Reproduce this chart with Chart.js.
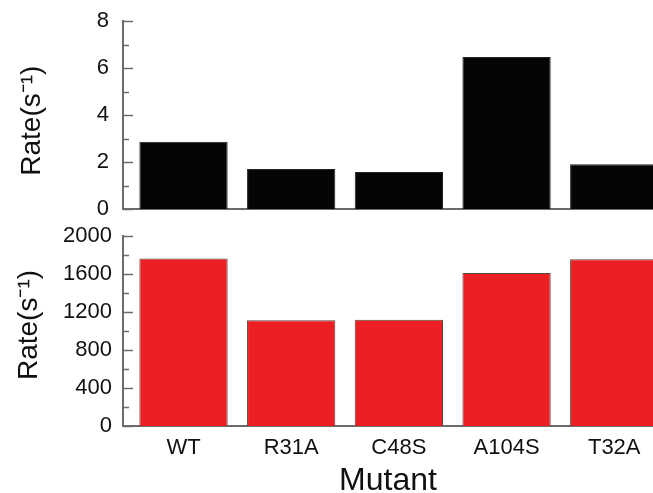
<!DOCTYPE html>
<html>
<head>
<meta charset="utf-8">
<script src="https://cdn.jsdelivr.net/npm/chart.js@4"></script>
<style>
  html, body { margin: 0; padding: 0; background: #fff; overflow: hidden; }
  canvas { position: absolute; left: 0; }
  #topChart { top: 0; }
  #bottomChart { top: 220px; }
</style>
</head>
<body>
<canvas id="topChart" width="653" height="222"></canvas>
<canvas id="bottomChart" width="653" height="280"></canvas>
<script>
const mutants = ['WT', 'R31A', 'C48S', 'A104S', 'T32A'];
const slowRates = [2.87, 1.71, 1.59, 6.47, 1.91];
const fastRates = [1762, 1114, 1118, 1611, 1755];
const slowTicks = [0, 2, 4, 6, 8];
const fastTicks = [0, 400, 800, 1200, 1600, 2000];
const yTitle = 'Rate(s\u207B\u00B9)';

const FONT = "'Liberation Sans', Arial, sans-serif";
const AXIS = '#6b6b6b';

// tick marks drawn inward from the y axis, with a short one between labels
const innerTicks = {
  id: 'innerTicks',
  afterDraw(chart, args, opts) {
    const y = chart.scales.y;
    const ctx = chart.ctx;
    const vals = opts.values;
    ctx.save();
    ctx.strokeStyle = AXIS;
    ctx.lineWidth = 1.5;
    for (let i = 0; i < vals.length; i++) {
      const list = [[vals[i], 10]];
      if (i < vals.length - 1) list.push([(vals[i] + vals[i + 1]) / 2, 6]);
      list.forEach(([v, len]) => {
        const py = Math.round(y.getPixelForValue(v)) + 0.5;
        ctx.beginPath();
        ctx.moveTo(y.right, py);
        ctx.lineTo(y.right + len, py);
        ctx.stroke();
      });
    }
    ctx.restore();
  }
};

// rotated y title, nudged off the plot centre like in the figure
const sideTitle = {
  id: 'sideTitle',
  afterDraw(chart, args, opts) {
    const { ctx, chartArea } = chart;
    ctx.save();
    ctx.translate(opts.x, (chartArea.top + chartArea.bottom) / 2 + opts.dy);
    ctx.rotate(-Math.PI / 2);
    ctx.font = '28px ' + FONT;
    ctx.fillStyle = '#111';
    ctx.textAlign = 'center';
    ctx.textBaseline = 'middle';
    ctx.fillText(opts.text, 0, 0);
    ctx.restore();
  }
};

function makeChart(id, values, ticks, fill, edge, cfg) {
  return new Chart(document.getElementById(id), {
    type: 'bar',
    data: {
      datasets: [{
        data: values.map((v, i) => ({ x: i, y: v })),
        backgroundColor: fill,
        borderColor: edge,
        borderWidth: 1,
        categoryPercentage: 1,
        barPercentage: 0.82
      }]
    },
    options: {
      responsive: false,
      animation: false,
      events: [],
      layout: { padding: { top: cfg.padTop, left: 0, right: 0, bottom: 0 } },
      plugins: {
        legend: { display: false },
        tooltip: { enabled: false },
        innerTicks: { values: ticks },
        sideTitle: { text: yTitle, x: cfg.titleX, dy: cfg.titleDy }
      },
      scales: {
        x: {
          type: 'linear',
          offset: false,
          min: -0.562,
          max: 4.36,
          grid: { display: false, drawTicks: false },
          border: { display: true, color: AXIS, width: 2 },
          afterBuildTicks: s => { s.ticks = mutants.map((m, i) => ({ value: i })); },
          afterFit: s => { s.height = cfg.xHeight; s.paddingLeft = 0; s.paddingRight = 0; },
          ticks: {
            display: cfg.showLabels,
            padding: 9,
            color: '#111',
            font: { family: FONT, size: 22 },
            callback: v => mutants[Math.round(v)]
          },
          title: {
            display: cfg.showLabels,
            text: 'Mutant',
            color: '#111',
            font: { family: FONT, size: 32 },
            padding: { top: 0, bottom: 0 }
          }
        },
        y: {
          min: ticks[0],
          max: ticks[ticks.length - 1],
          grid: { display: false, drawTicks: false },
          border: { display: true, color: AXIS, width: 2 },
          afterBuildTicks: s => { s.ticks = ticks.map(v => ({ value: v })); },
          afterFit: s => { s.width = 123; s.paddingTop = 0; s.paddingBottom = 0; },
          ticks: {
            padding: cfg.labelPad,
            color: '#111',
            font: { family: FONT, size: 22 },
            callback: v => String(v)
          }
        }
      }
    },
    plugins: [innerTicks, sideTitle]
  });
}

makeChart('topChart', slowRates, slowTicks, '#050505', '#2a2020',
  { padTop: 21, xHeight: 12.7, showLabels: false, labelPad: 14, titleX: 32, titleDy: 5.5 });
makeChart('bottomChart', fastRates, fastTicks, '#ec1f25', '#55483a',
  { padTop: 16, xHeight: 74, showLabels: true, labelPad: 11, titleX: 29, titleDy: -6 });
</script>
</body>
</html>
